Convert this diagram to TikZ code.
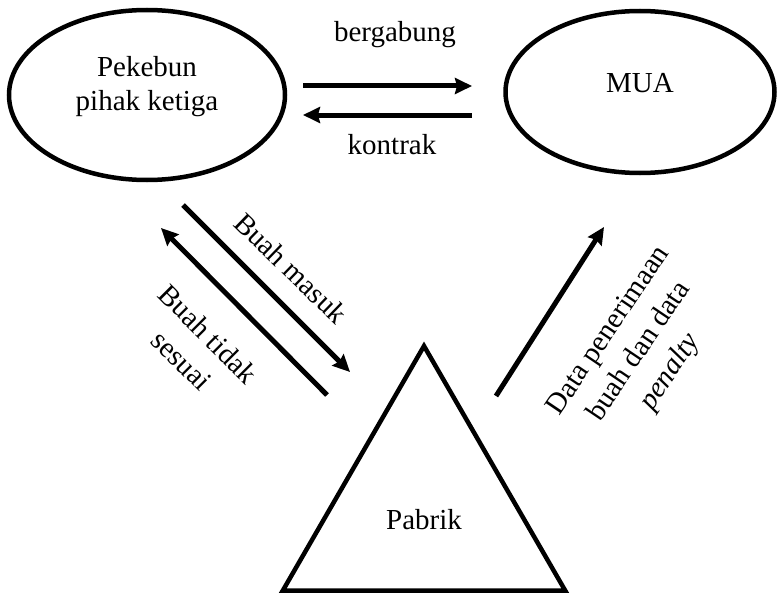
\documentclass[tikz,border=0pt]{standalone}
\usepackage{fontspec}
\setmainfont{Liberation Serif}
\usetikzlibrary{shapes.geometric,arrows.meta}

\begin{document}
\begin{tikzpicture}[x=1pt, y=-1pt,
        entity/.style={ellipse, draw, line width=4.5pt, inner sep=0pt, align=center, font=\fontsize{29}{34}\selectfont},
        plant/.style={regular polygon, regular polygon sides=3, draw, line width=4.5pt, minimum size=326pt, inner sep=0pt, font=\fontsize{29}{34}\selectfont},
        flow/.style={-{Stealth[length=17pt, width=16pt, inset=2pt]}, line width=5pt},
        note/.style={align=center, inner sep=0pt, font=\fontsize{29}{37}\selectfont}
    ]

    \useasboundingbox (0,0) rectangle (777,594);

    % Actors
    \node[entity, minimum width=276pt, minimum height=170pt, text depth=24pt] (pekebun) at (147,95) {Pekebun\\pihak ketiga};
    \node[entity, minimum width=269pt, minimum height=162pt, text depth=18pt] (mua) at (640,92) {MUA};
    \node[plant, text height=42pt] (pabrik) at (424,509) {Pabrik};

    % Arrow ends
    \coordinate (joinA) at (303,86);
    \coordinate (joinB) at (472,86);
    \coordinate (contractA) at (472,115);
    \coordinate (contractB) at (303,115);
    \coordinate (inA) at (183,205);
    \coordinate (inB) at (350,372);
    \coordinate (rejectA) at (327,395);
    \coordinate (rejectB) at (161,228);
    \coordinate (dataA) at (496,396);
    \coordinate (dataB) at (604,227);

    % Connections
    \draw[flow] (joinA) -- (joinB);
    \draw[flow] (contractA) -- (contractB);
    \draw[flow] (inA) -- (inB);
    \draw[flow] (rejectA) -- (rejectB);
    \draw[flow] (dataA) -- (dataB);

    % Labels
    \node[note] (bergabung) at (395,35) {bergabung};
    \node[note] (kontrak) at (392,145) {kontrak};
    \node[note, rotate=-44] (masuk) at (291,268) {Buah masuk};
    \node[note, rotate=-45] (sesuai) at (195,347) {Buah tidak\\sesuai};
    \node[note, rotate=56] (data) at (640,352) {Data penerimaan\\buah dan data\\\textit{penalty}};

\end{tikzpicture}
\end{document}
